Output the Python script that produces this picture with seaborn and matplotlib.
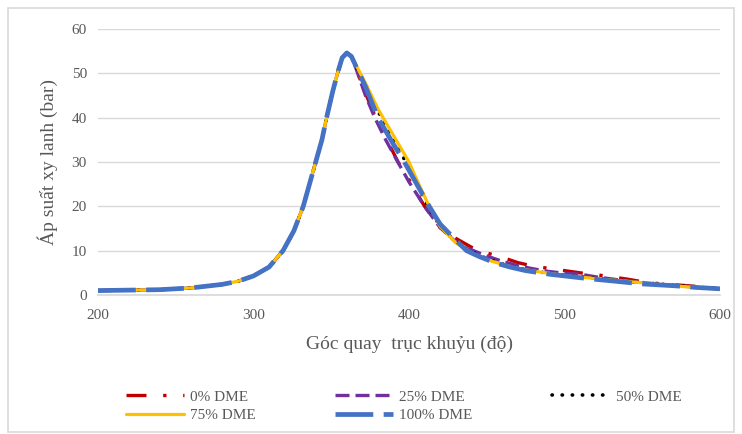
import matplotlib
matplotlib.use("Agg")
import matplotlib.pyplot as plt
import seaborn as sns
import pandas as pd
from matplotlib.patches import Rectangle

# ---- data ----
rise_x = [200, 220, 240, 260, 280, 290, 300, 310, 319, 326, 332, 336, 340, 344, 347, 351, 354, 357, 360, 363]
rise_y = [1.0, 1.1, 1.2, 1.6, 2.4, 3.1, 4.3, 6.3, 10.0, 14.5, 20.0, 25.0, 30.0, 35.0, 40.0, 46.0, 50.0, 53.5, 54.6, 53.8]

red_x = [366, 372, 378, 385, 393, 400, 410, 420, 430, 440, 450, 460, 470, 480, 490, 500, 510, 520, 530, 540, 550, 560, 575, 590, 600]
red_y = [51.0, 45.5, 40.5, 35.5, 30.0, 26.0, 20.0, 15.2, 12.8, 10.8, 9.5, 8.5, 7.3, 6.5, 6.0, 5.5, 5.0, 4.6, 4.1, 3.6, 3.0, 2.6, 2.2, 1.8, 1.5]

purple_x = [366, 372, 378, 385, 392, 400, 410, 420, 430, 440, 450, 460, 470, 480, 490, 500, 510, 520, 535, 550, 565, 580, 600]
purple_y = [51.0, 45.0, 40.0, 35.0, 30.5, 25.5, 20.0, 15.2, 12.0, 10.2, 8.8, 7.6, 6.6, 5.9, 5.3, 4.9, 4.7, 4.1, 3.4, 2.8, 2.3, 1.9, 1.4]

black_x = [366, 372, 380, 390, 398, 405, 413, 420, 430, 440, 450, 460, 470, 480, 490, 500, 520, 540, 560, 580, 600]
black_y = [51.5, 47.5, 41.5, 35.0, 30.0, 25.0, 19.5, 15.5, 12.0, 9.8, 8.2, 7.0, 6.1, 5.4, 4.9, 4.5, 3.8, 3.1, 2.5, 1.9, 1.4]

yellow_x = [366, 372, 380, 390, 400, 405, 413, 420, 430, 440, 450, 460, 470, 480, 490, 500, 520, 540, 560, 580, 600]
yellow_y = [51.8, 47.8, 42.0, 36.0, 30.0, 26.0, 20.0, 15.5, 11.8, 9.6, 8.0, 6.9, 6.0, 5.4, 4.9, 4.4, 3.7, 3.1, 2.4, 1.8, 1.3]

blue_x = [366, 368, 372, 376, 380, 385, 390, 397, 405, 413, 420, 430, 437, 445, 455, 465, 475, 490, 500, 515, 530, 550, 570, 585, 600]
blue_y = [51.5, 50.0, 47.0, 43.5, 40.0, 37.0, 34.0, 30.0, 25.0, 20.0, 16.0, 12.4, 10.0, 8.7, 7.3, 6.3, 5.5, 4.7, 4.3, 3.7, 3.2, 2.5, 2.1, 1.7, 1.4]

labels = ["0% DME", "25% DME", "50% DME", "75% DME", "100% DME"]
colors = ["#C00000", "#7030A0", "#000000", "#FFC000", "#4472C4"]

x_ticks = [200, 300, 400, 500, 600]
y_ticks = [0, 10, 20, 30, 40, 50, 60]

# ---- figure ----
sns.set_theme(style="white")
plt.rcParams['font.family'] = ['Liberation Serif', 'DejaVu Serif']

fig = plt.figure(figsize=(7.42, 4.34), dpi=100)
ax = fig.add_axes([98/742, 1-295/434, (720-98)/742, (295-29)/434])

series = [(red_x, red_y), (purple_x, purple_y), (black_x, black_y), (yellow_x, yellow_y), (blue_x, blue_y)]
styles = [
    dict(linewidth=2.4, linestyle=(0, (6.0, 5.0, 1.0, 5.0))),
    dict(linewidth=2.4, linestyle=(0, (4.2, 1.8))),
    dict(linewidth=2.6, linestyle=(0, (0.1, 2.7)), dash_capstyle='round'),
    dict(linewidth=2.3, linestyle='-'),
    dict(linewidth=3.4, linestyle=(0, (8.0, 2.2))),
]

for (sx, sy), lab, col, st in zip(series, labels, colors, styles):
    df = pd.DataFrame({"x": rise_x + sx, "y": rise_y + sy})
    sns.lineplot(data=df, x="x", y="y", ax=ax, color=col, label=lab, sort=False,
                 estimator=None, **st)

ax.set_xlim(200, 600)
ax.set_ylim(0, 60)
ax.set_xticks(x_ticks)
ax.set_yticks(y_ticks)
ax.yaxis.grid(True, color="#D9D9D9", linewidth=1.0)
ax.xaxis.grid(False)
for s in ["top", "right", "left"]:
    ax.spines[s].set_visible(False)
ax.spines["bottom"].set_color("#D9D9D9")
ax.tick_params(axis="both", length=0, labelsize=11, colors="#595959")
ax.tick_params(axis="x", pad=10)
ax.tick_params(axis="y", pad=8)
ax.set_xlabel("Góc quay  trục khuỷu (độ)", fontsize=14, color="#595959", labelpad=10)
ax.set_ylabel("Áp suất xy lanh (bar)", fontsize=14, color="#595959", labelpad=10)
ax.set_facecolor("white")

h, l = ax.get_legend_handles_labels()
ax.get_legend().remove()
order = [0, 3, 1, 4, 2]
fig.legend([h[i] for i in order], [l[i] for i in order], loc="center",
           bbox_to_anchor=(404/742, 1-406/434), ncol=3,
           frameon=False, fontsize=11, handlelength=3.8, columnspacing=5.2,
           labelcolor="#595959", handletextpad=0.4, labelspacing=0.3)

fig.patches.append(Rectangle((8/742, 2/434), (734-8)/742, (426-2)/434, transform=fig.transFigure,
                             fill=False, edgecolor="#D9D9D9", linewidth=1.2))

fig.savefig("out.png", dpi=100)
